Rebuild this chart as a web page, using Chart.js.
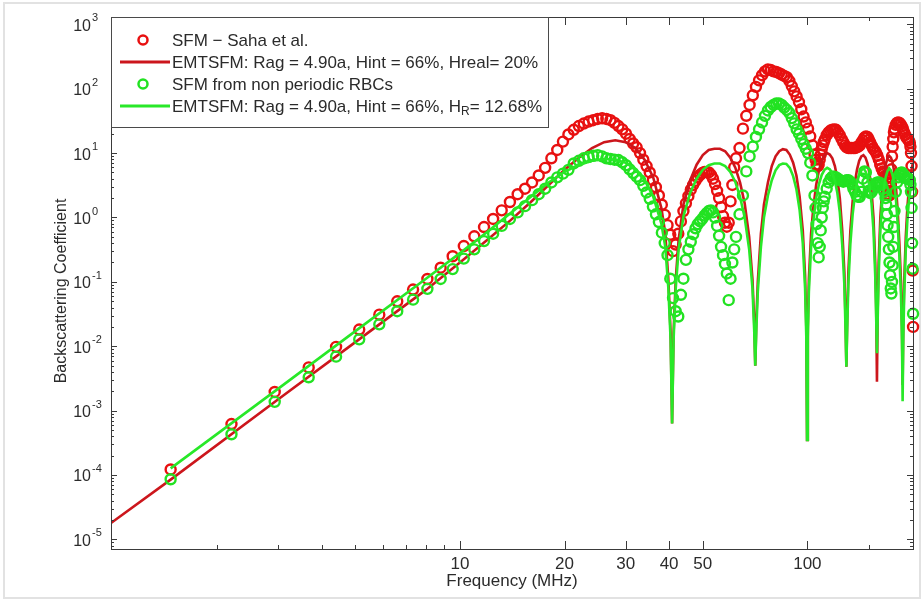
<!DOCTYPE html>
<html>
<head>
<meta charset="utf-8">
<title>Backscattering Coefficient</title>
<script src="https://cdn.jsdelivr.net/npm/chart.js@4.4.1/dist/chart.umd.min.js"></script>
<style>
    html, body { margin: 0; padding: 0; background: #fff; }
    #wrap { position: relative; width: 924px; height: 601px; }
</style>
</head>
<body>
<div id="wrap"><canvas id="bscGraph" width="924" height="601"></canvas></div>
<script>
// Frequency grid (MHz) of the two SFM simulations (circles)
const freqSFM = [
    1.47, 2.20, 2.93, 3.67, 4.40, 5.13, 5.86, 6.60, 7.33, 8.06,
    8.80, 9.53, 10.26, 11.00, 11.73, 12.46, 13.19, 13.93, 14.66, 15.39,
    16.13, 16.86, 17.59, 18.33, 19.06, 19.79, 20.52, 21.26, 21.99, 22.72,
    23.46, 24.19, 24.92, 25.66, 26.39, 27.12, 27.86, 28.59, 29.32, 30.06,
    30.79, 31.52, 32.25, 32.99, 33.72, 34.45, 35.18, 35.92, 36.65, 37.38,
    38.12, 38.85, 39.58, 40.31, 41.05, 41.78, 42.51, 43.25, 43.98, 44.71,
    45.45, 46.18, 46.91, 47.65, 48.38, 49.11, 49.84, 50.58, 51.31, 52.04,
    52.78, 53.51, 54.24, 54.98, 55.71, 56.44, 57.18, 57.91, 58.64, 59.38,
    60.11, 60.84, 61.57, 62.31,
    63.78, 65.25, 66.72, 68.19, 69.66, 71.12, 72.59, 74.06, 75.52, 76.99,
    78.46, 79.93, 81.39, 82.86, 84.33, 85.79, 87.26, 88.73, 90.19, 91.66,
    93.13, 94.59, 96.06, 97.53, 98.99, 100.46, 101.93, 103.39,
    104.86, 105.59, 106.33, 107.06, 107.79, 108.53, 109.26, 109.99, 110.73, 111.46, 112.19,
    113.66, 115.13, 116.59, 118.06, 119.53, 120.99, 122.46, 123.93, 125.39, 126.86,
    128.33, 129.79, 131.26, 132.73, 134.19, 135.66, 137.13, 138.59, 140.06, 141.53,
    142.99, 144.46, 145.93, 147.39, 148.86, 150.33, 151.79, 153.26, 154.73, 156.19,
    157.66, 159.13, 160.59, 162.06, 163.53, 164.99, 166.46, 167.93,
    168.66, 169.39, 170.13, 170.86, 171.59, 172.33, 173.06, 173.79, 174.53, 175.26, 175.99, 176.73, 177.46, 178.19,
    179.66, 181.13, 182.59, 184.06, 185.53, 186.99, 188.46, 189.93, 191.39, 192.86,
    194.33, 195.79, 197.26, 197.99, 198.73, 199.46, 200.19, 200.90, 201.50
];

// SFM - Saha et al. (red circles)
const sahaSFM = [
    1.22e-4, 6.2e-4, 1.95e-3, 4.7e-3, 9.8e-3, 0.0182, 0.031, 0.050, 0.076, 0.111,
    0.166, 0.25, 0.36, 0.51, 0.71, 0.95, 1.29, 1.74, 2.3, 2.8,
    3.5, 4.5, 5.9, 8.3, 11.2, 15.1, 19.5, 23, 26.3, 28.8,
    30.9, 32.4, 33.9, 34.7, 33.9, 32.4, 29.5, 26.3, 23.4, 20,
    16.6, 14.1, 12.3, 10, 7.9, 6.3, 5.0, 3.8, 2.95, 2.2,
    1.58, 1.1, 0.76, 0.54, 0.30, 0.38, 0.56, 0.87, 1.26, 1.66,
    2.14, 2.7, 3.2, 3.7, 4.2, 4.6, 4.9, 5.1, 5.1, 5.0,
    4.6, 4.0, 3.3, 2.6, 2.0, 1.45, 1.05, 0.83, 0.72, 0.83,
    1.78, 3.2, 6.0, 8.3,
    12, 24, 38, 56, 79, 107, 135, 162, 186, 200,
    195, 186, 182, 174, 166, 158, 151, 132, 110, 91,
    76, 62, 48, 37, 30, 24, 18.2, 13.2,
    9.5, 7.9, 6.6, 6.2, 6.6, 7.9, 9.5, 11.5, 13.2, 14.8, 16.2,
    19, 21, 22.4, 23, 23.4, 23, 21, 19, 16.6, 14.8,
    13.2, 12.3, 12, 12, 12, 12, 12, 12.3, 12.6, 13.2,
    14.5, 15.8, 17.4, 18.2, 17.8, 16.2, 14.5, 12.9, 11.7, 11,
    10.2, 9.1, 7.9, 6.6, 5.8, 5.2, 5.0, 4.5,
    4.0, 3.5, 3.0, 2.6, 2.3, 2.2, 2.5, 3.5, 5.6, 8.9, 12.6, 16.6, 21, 24,
    27.5, 29.5, 30, 29.5, 28, 26, 24, 21, 19, 17.4,
    16.6, 15.8, 14.5, 12.6, 10, 6.3, 2.5, 0.15, 0.020
];

// SFM from non periodic RBCs (green circles)
const nonPeriodicSFM = [
    8.6e-5, 4.3e-4, 1.37e-3, 3.3e-3, 6.9e-3, 0.0128, 0.0219, 0.035, 0.053, 0.078,
    0.111, 0.158, 0.23, 0.32, 0.43, 0.56, 0.74, 0.95, 1.2, 1.5,
    1.86, 2.3, 2.8, 3.5, 4.2, 4.8, 5.5, 6.9, 7.6, 8.3,
    8.7, 9.1, 9.3, 8.9, 8.3, 8.1, 7.9, 7.8, 7.2, 6.5,
    5.6, 4.9, 4.3, 3.8, 3.1, 2.45, 1.95, 1.48, 1.12, 0.85,
    0.58, 0.40, 0.26, 0.112, 0.056, 0.035, 0.029, 0.063, 0.112, 0.22,
    0.32, 0.42, 0.55, 0.68, 0.79, 0.87, 0.95, 1.07, 1.17, 1.26,
    1.29, 1.2, 1.0, 0.74, 0.52, 0.35, 0.26, 0.19, 0.135, 0.052,
    0.112, 0.20, 0.32, 0.50,
    1.12, 2.2, 5.2, 8.9, 12.6, 17.8, 23.4, 30, 38, 46,
    52, 56, 59, 59, 56, 51, 47, 42, 35, 29,
    23.4, 20, 16.6, 13.8, 11.7, 10, 7.1, 4.5,
    2.2, 1.41, 0.79, 0.40, 0.24, 0.35, 0.63, 1.0, 1.41, 1.78, 2.1,
    2.8, 3.5, 4.0, 4.3, 4.3, 4.2, 4.0, 3.8, 3.7, 3.6,
    3.7, 3.8, 3.8, 3.6, 3.3, 2.8, 2.5, 2.2, 2.1, 2.1,
    2.5, 4.0, 5.2, 5.0, 3.5, 2.6, 2.4, 2.5, 2.8, 3.2,
    3.4, 3.5, 3.5, 3.4, 3.2, 2.8, 2.5, 2.0,
    1.58, 1.12, 0.76, 0.50, 0.32, 0.20, 0.126, 0.079, 0.066, 0.10, 0.18, 0.35, 0.71, 1.26,
    2.5, 3.5, 4.2, 4.6, 4.9, 5.0, 4.8, 4.5, 4.2, 4.0,
    4.0, 4.0, 3.8, 3.2, 2.5, 1.41, 0.40, 0.16, 0.032
];

// Frequencies (MHz) of the EMTSFM curves
const freqModel = [
    0.99, 1.47, 3, 5, 8,
    10, 12, 14, 16, 18, 20, 22, 24, 26, 28, 30, 32, 34, 36, 38,
    39, 39.8, 40.4, 40.8, 41.2, 41.8, 42.6,
    44, 46, 48, 50, 52, 54, 56, 58, 60, 62, 64, 66, 68,
    69.5, 70.3, 70.8, 71.3, 72, 73.5,
    75, 77, 79, 81, 83, 85, 87, 89, 91, 93, 95, 97,
    98.5, 99.3, 99.8, 100.3, 101, 102.5,
    104, 106, 108, 110, 112, 114, 116, 118, 120, 122, 124, 126,
    127.8, 128.8, 129.5, 130.2, 131.2,
    133, 135, 137, 139, 141, 143, 145, 147, 149, 151, 153, 155,
    156.8, 157.8, 158.6, 159.4, 160.4,
    162.2, 164, 166, 168, 170, 172, 174, 176, 178, 180, 182, 184, 186,
    187.2, 188, 188.8,
    190, 192, 194, 196, 198, 200, 201.4
];

// EMTSFM: Rag = 4.90a, Hint = 66%, Hreal = 20% (red line)
const modelSaha = [
    1.8e-5, 8.5e-5, 1.5e-3, 0.0116, 0.0757,
    0.20, 0.45, 0.91, 1.74, 3.2, 5.5, 8.5, 12, 14.8, 15.8, 14.8, 12, 7.9, 4.2, 1.4,
    0.56, 0.11, 0.016, 6.3e-4, 0.016, 0.11, 0.45,
    1.6, 3.8, 6.6, 9.3, 11.2, 11.7, 11.7, 10.7, 8.5, 6.0, 3.5, 1.66, 0.5,
    0.11, 0.025, 5e-3, 0.025, 0.1, 0.56,
    1.6, 3.5, 6.3, 8.9, 10.7, 11.5, 11.2, 9.5, 7.1, 4.5, 2.1, 0.63,
    0.126, 0.02, 3.5e-4, 0.02, 0.11, 0.56,
    1.4, 3.2, 5.4, 7.6, 9.3, 10, 9.5, 8.3, 6.3, 4.0, 2.0, 0.63,
    0.14, 0.025, 4.8e-3, 0.025, 0.14,
    0.63, 1.8, 3.5, 5.6, 7.6, 8.9, 9.3, 8.5, 6.9, 4.8, 2.6, 1.0,
    0.2, 0.04, 2.8e-3, 0.04, 0.2,
    1.0, 2.5, 4.5, 6.6, 8.3, 9.1, 8.5, 7.1, 5.0, 2.8, 1.26, 0.4, 0.1,
    0.02, 2.5e-3, 0.02,
    0.1, 0.5, 1.4, 2.8, 4.5, 6.0, 7.1
];

// EMTSFM: Rag = 4.90a, Hint = 66%, H_R = 12.68% (green line), starts at 1.47 MHz
const modelNonPeriodic = [
    null, 1.27e-4, 2.2e-3, 0.0172, 0.113,
    0.28, 0.60, 1.17, 2.1, 3.5, 5.1, 6.6, 7.6, 8.1, 7.9, 7.1, 5.6, 3.8, 2.1, 0.8,
    0.35, 0.08, 0.0126, 6.3e-4, 0.0126, 0.08, 0.32,
    1.05, 2.4, 4.0, 5.5, 6.5, 6.9, 6.9, 6.3, 5.1, 3.6, 2.1, 1.0, 0.32,
    0.08, 0.018, 5e-3, 0.018, 0.07, 0.35,
    1.0, 2.2, 3.8, 5.4, 6.5, 6.9, 6.8, 5.9, 4.4, 2.75, 1.3, 0.4,
    0.08, 0.014, 3.5e-4, 0.014, 0.07, 0.35,
    0.89, 2.0, 3.3, 4.6, 5.5, 5.9, 5.6, 4.9, 3.7, 2.4, 1.2, 0.38,
    0.09, 0.018, 4.8e-3, 0.018, 0.09,
    0.4, 1.12, 2.2, 3.5, 4.7, 5.5, 5.8, 5.2, 4.3, 3.0, 1.66, 0.63,
    0.126, 0.028, 7.8e-3, 0.028, 0.126,
    0.63, 1.58, 2.8, 4.2, 5.2, 5.8, 5.4, 4.5, 3.2, 1.8, 0.8, 0.25, 0.063,
    0.0126, 1.4e-3, 0.0126,
    0.063, 0.32, 0.89, 1.8, 2.8, 3.8, 4.5
];

// Axes ticks
const xLabelTicks = [10, 20, 30, 40, 50, 100];
const xMinorTicks = [2, 3, 4, 5, 6, 7, 8, 9, 150];
const yDecades = [-5, -4, -3, -2, -1, 0, 1, 2, 3];
const yMinorSteps = [2, 3, 4, 5, 6, 7, 8, 9];

const RED_MARK = 'rgb(232,16,16)';
const RED_LINE = 'rgb(204,22,28)';
const GREEN_MARK = 'rgb(34,226,34)';
const GREEN_LINE = 'rgb(40,232,40)';

const legendItems = [
    { kind: 'circle', color: RED_MARK, parts: ['SFM \u2212 Saha et al.'] },
    { kind: 'line', color: RED_LINE, parts: ['EMTSFM: Rag = 4.90a, Hint = 66%, Hreal= 20%'] },
    { kind: 'circle', color: GREEN_MARK, parts: ['SFM from non periodic RBCs'] },
    { kind: 'line', color: GREEN_LINE, parts: ['EMTSFM: Rag = 4.90a, Hint = 66%, H', 'R', '= 12.68%'] }
];

const FONT = '"Liberation Sans", Arial, sans-serif';
const TEXT_COLOR = '#2b2b2b';

const ToPoints = (xs, ys) => xs.map((x, i) => ({ x: x, y: ys[i] })).filter(p => p.y !== null);

// Matlab-like box, inward ticks, labels and legend
const matlabAxes = {
    id: 'matlabAxes',
    beforeDraw(chart) {
        const ctx = chart.ctx;
        ctx.save();
        ctx.fillStyle = '#fff';
        ctx.fillRect(0, 0, chart.width, chart.height);
        ctx.strokeStyle = '#e2e2e2';
        ctx.lineWidth = 2;
        ctx.strokeRect(4, 3, 916, 595);
        ctx.restore();
    },
    afterDraw(chart) {
        const { ctx, chartArea: a } = chart;
        const xs = chart.scales.x, ys = chart.scales.y;
        ctx.save();
        ctx.strokeStyle = '#3a3a3a';
        ctx.lineWidth = 1;

        const vLine = (px, y0, y1) => { ctx.beginPath(); ctx.moveTo(px, y0); ctx.lineTo(px, y1); ctx.stroke(); };
        const hLine = (py, x0, x1) => { ctx.beginPath(); ctx.moveTo(x0, py); ctx.lineTo(x1, py); ctx.stroke(); };

        // x ticks (bottom and top)
        xMinorTicks.forEach(v => {
            const px = Math.round(xs.getPixelForValue(v)) + 0.5;
            vLine(px, a.bottom, a.bottom - 4);
            vLine(px, a.top, a.top + 4);
        });
        xLabelTicks.forEach(v => {
            const px = Math.round(xs.getPixelForValue(v)) + 0.5;
            vLine(px, a.bottom, a.bottom - 8);
            vLine(px, a.top, a.top + 8);
        });

        // y ticks (left and right)
        yDecades.forEach(e => {
            const py = Math.round(ys.getPixelForValue(Math.pow(10, e))) + 0.5;
            hLine(py, a.left, a.left + 6);
            hLine(py, a.right, a.right - 6);
        });
        [-6].concat(yDecades).forEach(e => {
            yMinorSteps.forEach(m => {
                const v = m * Math.pow(10, e);
                if (v < ys.min || v > ys.max) return;
                const py = Math.round(ys.getPixelForValue(v)) + 0.5;
                hLine(py, a.left, a.left + 3);
                hLine(py, a.right, a.right - 3);
            });
        });

        // box
        ctx.strokeRect(a.left + 0.5, a.top + 0.5, a.right - a.left, a.bottom - a.top);

        // tick labels
        ctx.fillStyle = TEXT_COLOR;
        ctx.font = '17px ' + FONT;
        ctx.textAlign = 'center';
        ctx.textBaseline = 'middle';
        xLabelTicks.forEach(v => ctx.fillText(String(v), xs.getPixelForValue(v), a.bottom + 15));

        yDecades.forEach(e => {
            const py = ys.getPixelForValue(Math.pow(10, e));
            ctx.font = '16px ' + FONT;
            ctx.textAlign = 'right';
            ctx.fillText('10', 91, py + 2);
            ctx.font = '11px ' + FONT;
            ctx.textAlign = 'left';
            ctx.fillText(e < 0 ? '-' + Math.abs(e) : String(e), 92, py - 6);
        });

        // axis titles
        ctx.font = '17px ' + FONT;
        ctx.textAlign = 'center';
        ctx.fillText('Frequency (MHz)', (a.left + a.right) / 2, a.bottom + 32);
        ctx.save();
        ctx.font = '16px ' + FONT;
        ctx.translate(62, 291);
        ctx.rotate(-Math.PI / 2);
        ctx.fillText('Backscattering Coefficient', 0, 0);
        ctx.restore();

        DrawLegend(ctx, a);
        ctx.restore();
    }
};

function DrawLegend(ctx, a) {
    const box = { x: a.left + 0.5, y: a.top + 0.5, w: 437, h: 110 };
    ctx.fillStyle = '#fff';
    ctx.fillRect(box.x, box.y, box.w, box.h);
    ctx.strokeStyle = '#4a4a4a';
    ctx.lineWidth = 1;
    ctx.strokeRect(box.x, box.y, box.w, box.h);

    legendItems.forEach((item, i) => {
        const cy = a.top + 23 + i * 22;
        ctx.strokeStyle = item.color;
        if (item.kind === 'circle') {
            ctx.lineWidth = 2.5;
            ctx.beginPath();
            ctx.arc(143, cy, 4.5, 0, Math.PI * 2);
            ctx.stroke();
        } else {
            ctx.lineWidth = 3;
            ctx.beginPath();
            ctx.moveTo(120, cy);
            ctx.lineTo(170, cy);
            ctx.stroke();
        }

        ctx.fillStyle = TEXT_COLOR;
        ctx.textAlign = 'left';
        ctx.textBaseline = 'middle';
        let tx = 172;
        item.parts.forEach((part, j) => {
            const isSub = item.parts.length > 1 && j === 1;
            ctx.font = (isSub ? '12px ' : '17px ') + FONT;
            ctx.fillText(part, tx, isSub ? cy + 6 : cy + 1);
            tx += ctx.measureText(part).width;
        });
    });
}

const config = {
    type: 'scatter',
    data: {
        datasets: [
            {
                label: 'EMTSFM: Rag = 4.90a, Hint = 66%, H_R= 12.68%',
                data: ToPoints(freqModel, modelNonPeriodic),
                showLine: true,
                borderColor: GREEN_LINE,
                borderWidth: 2.6,
                pointRadius: 0,
                order: 0
            },
            {
                label: 'SFM from non periodic RBCs',
                data: ToPoints(freqSFM, nonPeriodicSFM),
                showLine: false,
                borderColor: GREEN_MARK,
                backgroundColor: 'rgba(0,0,0,0)',
                pointRadius: 5,
                pointBorderWidth: 2.4,
                clip: false,
                order: 1
            },
            {
                label: 'EMTSFM: Rag = 4.90a, Hint = 66%, Hreal= 20%',
                data: ToPoints(freqModel, modelSaha),
                showLine: true,
                borderColor: RED_LINE,
                borderWidth: 2.6,
                pointRadius: 0,
                order: 2
            },
            {
                label: 'SFM - Saha et al.',
                data: ToPoints(freqSFM, sahaSFM),
                showLine: false,
                borderColor: RED_MARK,
                backgroundColor: 'rgba(0,0,0,0)',
                pointRadius: 5,
                pointBorderWidth: 2.4,
                clip: false,
                order: 3
            }
        ]
    },
    options: {
        responsive: false,
        animation: false,
        devicePixelRatio: 1,
        layout: { padding: { left: 111, top: 17, right: 11, bottom: 52 } },
        plugins: { legend: { display: false }, tooltip: { enabled: false } },
        scales: {
            x: { type: 'logarithmic', min: 0.99, max: 201.4, display: false },
            y: { type: 'logarithmic', min: 7.1e-6, max: 1300, display: false }
        }
    },
    plugins: [matlabAxes]
};

try {
    new Chart(document.getElementById('bscGraph'), config);
}
catch (e) {
    console.error('Error draw graph', e);
}
</script>
</body>
</html>
